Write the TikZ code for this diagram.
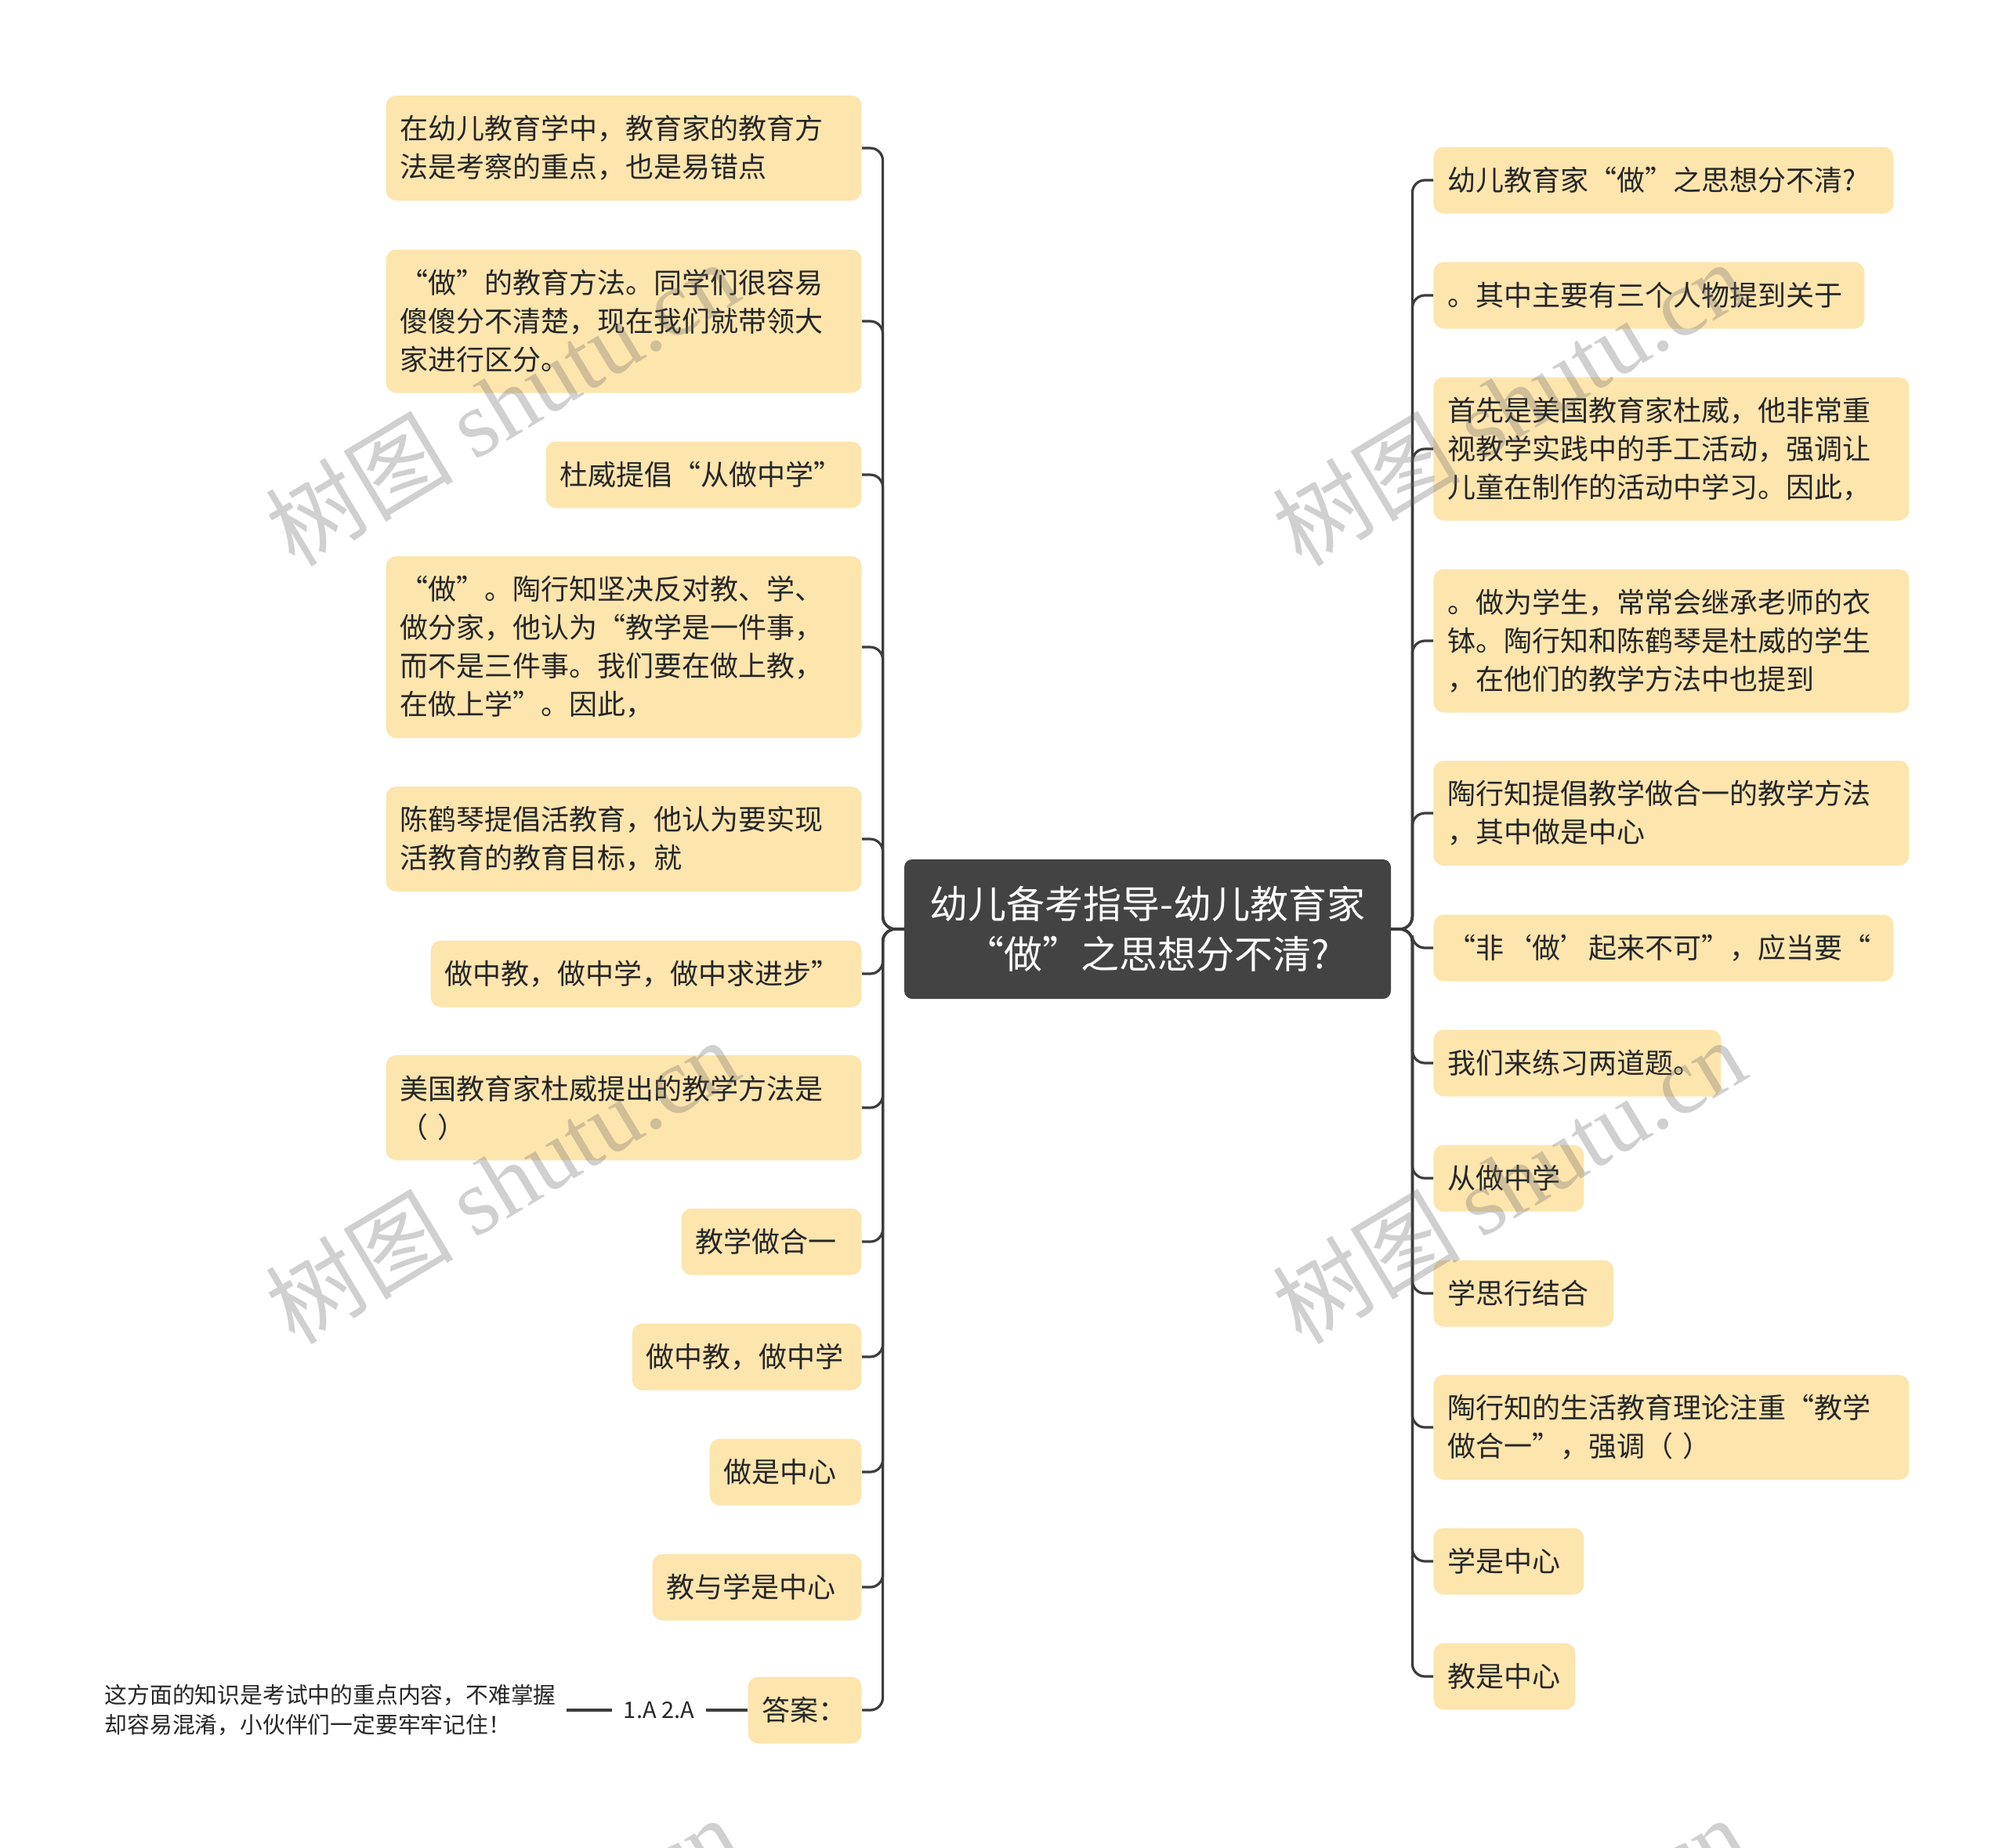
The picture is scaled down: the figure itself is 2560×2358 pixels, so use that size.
\documentclass[tikz,border=0pt]{standalone}
\usepackage{fontspec}
\setmainfont{Noto Sans CJK SC}
\newfontfamily\cjk{Noto Sans CJK SC}
\newfontfamily\wmserif{Liberation Serif}
\definecolor{boxfill}{RGB}{253,229,174}
\definecolor{rootfill}{RGB}{67,67,67}
\definecolor{linecol}{RGB}{60,60,60}
\definecolor{txt}{RGB}{38,38,38}
\begin{document}
\begin{tikzpicture}[x=0.5pt,y=-0.5pt,
  box/.style={fill=boxfill, rounded corners=6.5pt, inner xsep=9pt, inner ysep=0pt,
    align=left, text=txt, font=\cjk\fontsize{18}{24.5}\selectfont, minimum height=42.5pt},
  htwo/.style={minimum height=67pt},
  hthree/.style={minimum height=91.5pt},
  hfour/.style={minimum height=116pt},
  lbox/.style={box, anchor=east},
  rbox/.style={box, anchor=west},
  conn/.style={draw=linecol, line width=1.6pt, rounded corners=8pt},
  wm/.style={text=black!60, opacity=0.3, font=\fontsize{60}{60}\selectfont, rotate=31, inner sep=0pt}]
\useasboundingbox (0,0) rectangle (2560,2358);
\fill[white] (0,0) rectangle (2560,2358);
\clip (0,0) rectangle (2560,2358);

% root
\node[fill=rootfill, rounded corners=5pt, text=white, align=center,
  font=\cjk\fontsize{24.5}{32}\selectfont, minimum width=310.5pt, minimum height=89pt,
  inner sep=0pt] (root) at (1464.5,1186) {幼儿备考指导-幼儿教育家\\“做”之思想分不清?};

% left nodes
\node[lbox, htwo, text width=285.5pt] (L1) at (1100,189) {在幼儿教育学中，教育家的教育方\\法是考察的重点，也是易错点};
\node[lbox, hthree, text width=285.5pt] (L2) at (1100,410) {“做”的教育方法。同学们很容易\\傻傻分不清楚，现在我们就带领大\\家进行区分。};
\node[lbox, text width=183.5pt] (L3) at (1100,606) {杜威提倡“从做中学”};
\node[lbox, hfour, text width=285.5pt] (L4) at (1100,826) {“做”。陶行知坚决反对教、学、\\做分家，他认为“教学是一件事，\\而不是三件事。我们要在做上教，\\在做上学”。因此，};
\node[lbox, htwo, text width=285.5pt] (L5) at (1100,1071) {陈鹤琴提倡活教育，他认为要实现\\活教育的教育目标，就};
\node[lbox, text width=257pt] (L6) at (1100,1243) {做中教，做中学，做中求进步”};
\node[lbox, htwo, text width=285.5pt] (L7) at (1100,1414) {美国教育家杜威提出的教学方法是\\（ ）};
\node[lbox, text width=97pt] (L8) at (1100,1585) {教学做合一};
\node[lbox, text width=128.5pt] (L9) at (1100,1732) {做中教，做中学};
\node[lbox, text width=79pt] (L10) at (1100,1879) {做是中心};
\node[lbox, text width=115.5pt] (L11) at (1100,2026) {教与学是中心};
\node[lbox, text width=54.5pt] (L12) at (1100,2183) {答案：};

% right nodes
\node[rbox, text width=275.5pt] (R1) at (1829,230) {幼儿教育家“做”之思想分不清?};
\node[rbox, text width=257pt] (R2) at (1829,377) {。其中主要有三个人物提到关于};
\node[rbox, hthree, text width=285.5pt] (R3) at (1829,573) {首先是美国教育家杜威，他非常重\\视教学实践中的手工活动，强调让\\儿童在制作的活动中学习。因此，};
\node[rbox, hthree, text width=285.5pt] (R4) at (1829,818) {。做为学生，常常会继承老师的衣\\钵。陶行知和陈鹤琴是杜威的学生\\，在他们的教学方法中也提到};
\node[rbox, htwo, text width=285.5pt] (R5) at (1829,1038) {陶行知提倡教学做合一的教学方法\\，其中做是中心};
\node[rbox, text width=275.5pt] (R6) at (1829,1210) {“非‘做’起来不可”，应当要“};
\node[rbox, text width=165.5pt] (R7) at (1829,1357) {我们来练习两道题。};
\node[rbox, text width=78pt] (R8) at (1829,1504) {从做中学};
\node[rbox, text width=97pt] (R9) at (1829,1651) {学思行结合};
\node[rbox, htwo, text width=285.5pt] (R10) at (1829,1822) {陶行知的生活教育理论注重“教学\\做合一”，强调（ ）};
\node[rbox, text width=78pt] (R11) at (1829,1993) {学是中心};
\node[rbox, text width=72.5pt] (R12) at (1829,2140) {教是中心};

% connectors
\foreach \i in {1,...,12} {
  \draw[conn] (root.west) -- ++(-27,0) |- (L\i.east);
  \draw[conn] (root.east) -- ++(27,0) |- (R\i.west);
}

% answer chain
\node[font=\cjk\fontsize{14.5}{18.8}\selectfont, text=txt, inner xsep=7.5pt, inner ysep=2pt] (ansv) at (841,2183) {1.A 2.A};
\node[anchor=east, align=left, font=\cjk\fontsize{14.4}{18.8}\selectfont, text=txt, inner xsep=6.5pt, inner ysep=2pt] (note) at (723,2183) {这方面的知识是考试中的重点内容，不难掌握\\却容易混淆，小伙伴们一定要牢牢记住！};
\draw[linecol, line width=1.6pt] (L12.west) -- (ansv.east);
\draw[linecol, line width=1.6pt] (ansv.west) -- (note.east);

% watermarks
\foreach \p in {(640,514),(1925,514),(640,1507),(1925,1507),(640,2500),(1925,2500)} {
  \node[wm] at \p {{\cjk 树图} {\wmserif shutu.cn}};
}
\end{tikzpicture}
\end{document}
